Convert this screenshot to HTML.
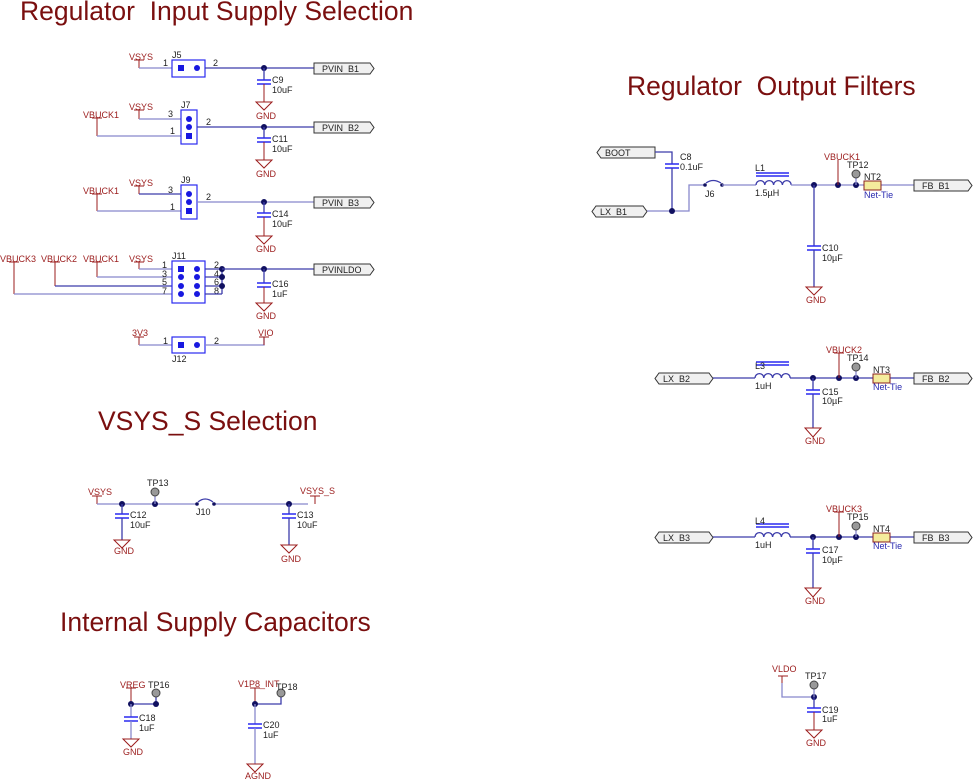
<!DOCTYPE html>
<html><head><meta charset="utf-8"><style>
html,body{margin:0;padding:0;background:#fff}
svg{display:block}
text{font-family:"Liberation Sans",sans-serif;font-size:9px;fill:#222}
.r{fill:#9b1c1c}
.b{fill:#2a2ab0}
.t{font-size:26.5px;fill:#7a0f0f;white-space:pre}
.w{stroke:#3c3caa;stroke-width:1.3;fill:none}
.wl{stroke:#8888cc;stroke-width:1.3;fill:none}
.rs{stroke:#9b1c1c;stroke-width:1;fill:none}
.g{stroke:#9b1c1c;stroke-width:1;fill:#fff}
.cp{stroke:#2a2af0;stroke-width:1.5}
.box{stroke:#2a2af0;stroke-width:1.2;fill:none}
.pin{fill:#1818e0}
.j{fill:#101060}
.port{fill:#f0f0f0;stroke:#333;stroke-width:1}
.tp{fill:#999;stroke:#444;stroke-width:1}
</style></head><body>
<svg width="973" height="779" viewBox="0 0 973 779" xmlns="http://www.w3.org/2000/svg" xml:space="preserve">
<defs>
<g id="cap"><path class="cp" d="M-7 0H7M-7 4H7"/></g>
</defs>
<!-- Titles -->
<text class="t" x="20" y="20">Regulator  Input Supply Selection</text>
<text class="t" x="627" y="95">Regulator  Output Filters</text>
<text class="t" x="98" y="430">VSYS_S Selection</text>
<text class="t" x="60" y="631">Internal Supply Capacitors</text>

<!-- J5 -->
<text class="r" x="129" y="60">VSYS</text><path class="rs" d="M134 60H144M139 60V68"/>
<path class="wl" d="M139 68H172"/><text x="163" y="66">1</text>
<rect class="box" x="172" y="60" width="33" height="17"/><rect class="pin" x="178" y="65" width="6" height="6"/><circle class="pin" cx="197" cy="68" r="3"/>
<text x="172" y="58">J5</text><text x="213" y="66">2</text>
<path class="w" d="M205 68H314"/><circle class="j" cx="264" cy="68" r="3"/>
<path class="port" d="M314 63H370L374 68.5L370 74H314Z"/><text x="322" y="72">PVIN_B1</text>
<path class="w" d="M264 68V80"/><use href="#cap" x="264" y="80"/><text x="272" y="83">C9</text><text x="272" y="93">10uF</text>
<path class="rs" d="M264 84V102"/><path class="g" d="M256 102H272L264 110Z"/><text class="r" x="256" y="119">GND</text>

<!-- J7 -->
<text class="r" x="129" y="110">VSYS</text><path class="rs" d="M134 110H144M139 110V119"/>
<path class="wl" d="M139 119H181"/><text x="168" y="117">3</text>
<text class="r" x="83" y="118">VBUCK1</text><path class="rs" d="M92 118H102M97 118V136"/>
<path class="wl" d="M97 136H181"/><text x="170" y="134">1</text>
<rect class="box" x="181" y="110" width="16" height="34"/><circle class="pin" cx="189" cy="119" r="3"/><circle class="pin" cx="189" cy="127" r="3"/><rect class="pin" x="186" y="133" width="6" height="6"/>
<text x="181" y="108">J7</text><text x="206" y="125">2</text>
<path class="w" d="M197 127H314"/><circle class="j" cx="264" cy="127" r="3"/>
<path class="port" d="M314 122H370L374 127.5L370 133H314Z"/><text x="322" y="131">PVIN_B2</text>
<path class="w" d="M264 127V138"/><use href="#cap" x="264" y="138"/><text x="272" y="142">C11</text><text x="272" y="152">10uF</text>
<path class="rs" d="M264 142V160"/><path class="g" d="M256 160H272L264 168Z"/><text class="r" x="256" y="177">GND</text>

<!-- J9 -->
<text class="r" x="129" y="186">VSYS</text><path class="rs" d="M134 186H144M139 186V194"/>
<path class="w" d="M139 194H181"/><text x="168" y="193">3</text>
<text class="r" x="83" y="194">VBUCK1</text><path class="rs" d="M92 194H102M97 194V211"/>
<path class="wl" d="M97 211H181"/><text x="170" y="210">1</text>
<rect class="box" x="181" y="185" width="16" height="34"/><circle class="pin" cx="189" cy="194" r="3"/><circle class="pin" cx="189" cy="202" r="3"/><rect class="pin" x="186" y="208" width="6" height="6"/>
<text x="181" y="183">J9</text><text x="206" y="200">2</text>
<path class="wl" d="M197 202H314"/><circle class="j" cx="264" cy="202" r="3"/>
<path class="port" d="M314 197H370L374 202.5L370 208H314Z"/><text x="322" y="206">PVIN_B3</text>
<path class="w" d="M264 202V213"/><use href="#cap" x="264" y="213"/><text x="272" y="217">C14</text><text x="272" y="227">10uF</text>
<path class="rs" d="M264 217V236"/><path class="g" d="M256 236H272L264 244Z"/><text class="r" x="256" y="252">GND</text>

<!-- J11 -->
<text class="r" x="0" y="262">VBUCK3</text><path class="rs" d="M9 262H19M14 262V294"/>
<text class="r" x="41" y="262">VBUCK2</text><path class="rs" d="M50 262H60M55 262V286"/>
<text class="r" x="83" y="262">VBUCK1</text><path class="rs" d="M92 262H102M97 262V277"/>
<text class="r" x="129" y="262">VSYS</text><path class="rs" d="M134 262H144M139 262V269"/>
<path class="wl" d="M139 269H172M97 277H172M14 294H172"/><path class="w" d="M55 286H172"/>
<text x="162" y="268">1</text><text x="162" y="277">3</text><text x="162" y="285">5</text><text x="162" y="294">7</text>
<rect class="box" x="172" y="261" width="33" height="42"/>
<rect class="pin" x="178" y="266" width="6" height="6"/><circle class="pin" cx="181" cy="277" r="3"/><circle class="pin" cx="181" cy="286" r="3"/><circle class="pin" cx="181" cy="294" r="3"/>
<circle class="pin" cx="197" cy="269" r="3"/><circle class="pin" cx="197" cy="277" r="3"/><circle class="pin" cx="197" cy="286" r="3"/><circle class="pin" cx="197" cy="294" r="3"/>
<text x="172" y="259">J11</text>
<text x="214" y="268">2</text><text x="214" y="277">4</text><text x="214" y="285">6</text><text x="214" y="294">8</text>
<path class="w" d="M205 269H222M205 277H222M205 286H222M205 294H222M222 269V294"/>
<circle class="j" cx="222" cy="269" r="3"/><circle class="j" cx="222" cy="277" r="3"/><circle class="j" cx="222" cy="286" r="3"/>
<path class="w" d="M222 269H314"/><circle class="j" cx="264" cy="269" r="3"/>
<path class="port" d="M314 264H370L374 269.5L370 275H314Z"/><text x="322" y="273">PVINLDO</text>
<path class="w" d="M264 269V283"/><use href="#cap" x="264" y="283"/><text x="272" y="287">C16</text><text x="272" y="297">1uF</text>
<path class="rs" d="M264 287V303"/><path class="g" d="M256 303H272L264 311Z"/><text class="r" x="256" y="319">GND</text>

<!-- J12 -->
<text class="r" x="132" y="336">3V3</text><path class="rs" d="M134 337H144M139 337V345"/>
<path class="wl" d="M139 345H172"/><text x="163" y="344">1</text>
<rect class="box" x="172" y="337" width="33" height="16"/><rect class="pin" x="178" y="342" width="6" height="6"/><circle class="pin" cx="197" cy="345" r="3"/>
<text x="172" y="362">J12</text><text x="214" y="344">2</text>
<path class="wl" d="M205 345H264V337"/><text class="r" x="258" y="336">VIO</text><path class="rs" d="M259 337H269M264 337V345"/>

<!-- VSYS_S -->
<text class="r" x="88" y="495">VSYS</text><path class="rs" d="M92 496H102M97 496V504"/>
<path class="wl" d="M97 504H196M214 504H308"/>
<circle class="j" cx="122" cy="504" r="3"/><circle class="j" cx="155" cy="504" r="3"/>
<path class="wl" d="M155 504V496"/><circle class="tp" cx="155" cy="492" r="4"/><text x="147" y="486">TP13</text>
<circle class="j" cx="197" cy="504" r="1.8"/><circle class="j" cx="214" cy="504" r="1.8"/><path class="w" d="M198 502Q205 496 213 502"/><text x="196" y="515">J10</text>
<circle class="j" cx="289" cy="504" r="3"/>
<text class="r" x="300" y="494">VSYS_S</text><path class="rs" d="M310 496H320M315 496V504"/>
<path class="w" d="M122 504V514"/><use href="#cap" x="122" y="514"/><text x="130" y="518">C12</text><text x="130" y="528">10uF</text>
<path class="w" d="M122 518V540"/><path class="g" d="M114 540H130L122 548Z"/><text class="r" x="114" y="554">GND</text>
<path class="w" d="M289 504V514"/><use href="#cap" x="289" y="514"/><text x="297" y="518">C13</text><text x="297" y="528">10uF</text>
<path class="w" d="M289 518V545"/><path class="g" d="M281 545H297L289 553Z"/><text class="r" x="281" y="562">GND</text>

<!-- Internal -->
<text class="r" x="120" y="688">VREG</text><path class="rs" d="M126 688H136M131 688V704"/>
<path class="w" d="M131 704H156V697"/><circle class="j" cx="131" cy="704" r="3"/><circle class="j" cx="156" cy="704" r="3"/>
<circle class="tp" cx="156" cy="693" r="4"/><text x="148" y="688">TP16</text>
<path class="wl" d="M131 704V717"/><use href="#cap" x="131" y="717"/><text x="139" y="721">C18</text><text x="139" y="731">1uF</text>
<path class="wl" d="M131 721V739"/><path class="g" d="M123 739H139L131 747Z"/><text class="r" x="123" y="755">GND</text>
<text class="r" x="238" y="687">V1P8_INT</text><path class="rs" d="M250 688H260M255 688V704"/>
<path class="w" d="M255 704H281V697"/><circle class="j" cx="255" cy="704" r="3"/>
<circle class="tp" cx="281" cy="693" r="4"/><text x="276" y="690">TP18</text>
<path class="wl" d="M255 704V724"/><use href="#cap" x="255" y="724"/><text x="263" y="728">C20</text><text x="263" y="738">1uF</text>
<path class="wl" d="M255 728V764"/><path class="g" d="M247 764H263L255 772Z"/><text class="r" x="245" y="779">AGND</text>

<!-- B1 -->
<path class="port" d="M601 147H655V158H601L597 152.5Z"/><text x="605" y="156">BOOT</text>
<path class="w" d="M655 152H672V164"/><use href="#cap" x="672" y="164"/><text x="680" y="160">C8</text><text x="680" y="170">0.1uF</text>
<path class="w" d="M672 168V211"/>
<path class="port" d="M596 206H643L647 211.5L643 217H596L592 211.5Z"/><text x="600" y="215">LX_B1</text>
<path class="wl" d="M647 211H689V185H705"/><circle class="j" cx="672" cy="211" r="3"/>
<circle class="j" cx="705" cy="185" r="1.8"/><circle class="j" cx="722" cy="185" r="1.8"/><path class="w" d="M706 183Q713 178 721 183"/><text x="705" y="197">J6</text>
<path class="wl" d="M722 185H756"/>
<path class="w" d="M756 185a4.4 4.4 0 0 1 8.8 0a4.4 4.4 0 0 1 8.8 0a4.4 4.4 0 0 1 8.8 0a4.4 4.4 0 0 1 8.8 0"/>
<path class="cp" d="M756 173H789M756 176H789"/><text x="755" y="171">L1</text><text x="755" y="196">1.5µH</text>
<path class="wl" d="M791 185H914"/>
<circle class="j" cx="814" cy="185" r="3"/><circle class="j" cx="838" cy="185" r="3"/><circle class="j" cx="856" cy="185" r="3"/>
<text class="r" x="824" y="160">VBUCK1</text><path class="rs" d="M838 160V185"/>
<path class="wl" d="M856 185V178"/><circle class="tp" cx="856" cy="174" r="4"/><text x="847" y="168">TP12</text>
<rect x="864" y="181" width="17" height="9" fill="#f4ec9c" stroke="#8a2020"/><text x="864" y="180">NT2</text><text class="b" x="864" y="198">Net-Tie</text>
<path class="port" d="M914 180H968L972 185.5L968 191H914Z"/><text x="922" y="189">FB_B1</text>
<path class="w" d="M814 185V246"/><use href="#cap" x="814" y="246"/><text x="822" y="251">C10</text><text x="822" y="261">10µF</text>
<path class="w" d="M814 250V287"/><path class="g" d="M806 287H822L814 295Z"/><text class="r" x="806" y="303">GND</text>

<!-- B2 -->
<path class="port" d="M659 373H709L713 378.5L709 384H659L655 378.5Z"/><text x="663" y="382">LX_B2</text>
<path class="w" d="M713 378H755"/>
<path class="w" d="M755 378a4.4 4.4 0 0 1 8.8 0a4.4 4.4 0 0 1 8.8 0a4.4 4.4 0 0 1 8.8 0a4.4 4.4 0 0 1 8.8 0"/>
<path class="cp" d="M756 362H789M756 365H789"/><text x="755" y="369">L3</text><text x="755" y="389">1uH</text>
<path class="w" d="M790 378H914"/>
<circle class="j" cx="813" cy="378" r="3"/><circle class="j" cx="839" cy="378" r="3"/><circle class="j" cx="856" cy="378" r="3"/>
<text class="r" x="826" y="353">VBUCK2</text><path class="rs" d="M834 353H844M839 353V378"/>
<path class="wl" d="M856 378V371"/><circle class="tp" cx="856" cy="367" r="4"/><text x="847" y="361">TP14</text>
<rect x="873" y="374" width="17" height="9" fill="#f4ec9c" stroke="#8a2020"/><text x="873" y="373">NT3</text><text class="b" x="873" y="390">Net-Tie</text>
<path class="port" d="M914 373H968L972 378.5L968 384H914Z"/><text x="922" y="382">FB_B2</text>
<path class="w" d="M813 378V390"/><use href="#cap" x="813" y="390"/><text x="822" y="395">C15</text><text x="822" y="404">10µF</text>
<path class="w" d="M813 394V428"/><path class="g" d="M805 428H821L813 437Z"/><text class="r" x="805" y="444">GND</text>

<!-- B3 -->
<path class="port" d="M659 532H709L713 537.5L709 543H659L655 537.5Z"/><text x="663" y="541">LX_B3</text>
<path class="w" d="M713 537H755"/>
<path class="w" d="M755 537a4.4 4.4 0 0 1 8.8 0a4.4 4.4 0 0 1 8.8 0a4.4 4.4 0 0 1 8.8 0a4.4 4.4 0 0 1 8.8 0"/>
<path class="cp" d="M756 524H789M756 527H789"/><text x="755" y="524">L4</text><text x="755" y="548">1uH</text>
<path class="w" d="M790 537H914"/>
<circle class="j" cx="813" cy="537" r="3"/><circle class="j" cx="839" cy="537" r="3"/><circle class="j" cx="856" cy="537" r="3"/>
<text class="r" x="826" y="512">VBUCK3</text><path class="rs" d="M834 512H844M839 512V537"/>
<path class="wl" d="M856 537V530"/><circle class="tp" cx="856" cy="526" r="4"/><text x="847" y="520">TP15</text>
<rect x="873" y="533" width="17" height="9" fill="#f4ec9c" stroke="#8a2020"/><text x="873" y="532">NT4</text><text class="b" x="873" y="549">Net-Tie</text>
<path class="port" d="M914 532H968L972 537.5L968 543H914Z"/><text x="922" y="541">FB_B3</text>
<path class="w" d="M813 537V549"/><use href="#cap" x="813" y="549"/><text x="822" y="553">C17</text><text x="822" y="563">10µF</text>
<path class="w" d="M813 553V588"/><path class="g" d="M805 588H821L813 597Z"/><text class="r" x="805" y="604">GND</text>

<!-- VLDO -->
<text class="r" x="772" y="672">VLDO</text><path class="rs" d="M778 676H788M782 676V683"/>
<path class="wl" d="M782 683V697H814"/><circle class="j" cx="814" cy="697" r="3"/>
<path class="wl" d="M814 697V689"/><circle class="tp" cx="814" cy="685" r="4"/><text x="805" y="679">TP17</text>
<path class="w" d="M814 697V708"/><use href="#cap" x="814" y="708"/><text x="822" y="713">C19</text><text x="822" y="722">1uF</text>
<path class="rs" d="M814 712V730"/><path class="g" d="M806 730H822L814 738Z"/><text class="r" x="806" y="746">GND</text>
</svg>
</body></html>
